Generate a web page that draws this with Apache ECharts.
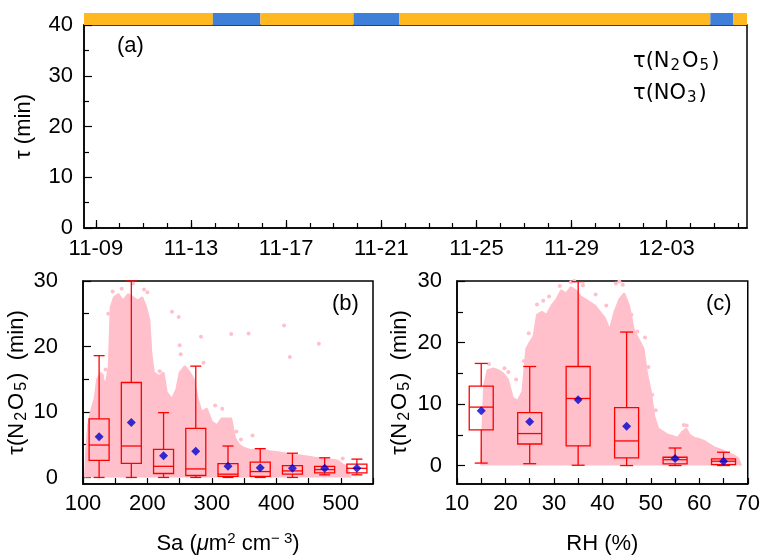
<!DOCTYPE html>
<html><head><meta charset="utf-8">
<script src="https://cdn.jsdelivr.net/npm/echarts@6/dist/echarts.min.js"></script>
<style>html,body{margin:0;padding:0;background:#fff}#c{width:763px;height:556px}</style>
</head><body><div id="c"></div>
<script>
// ---------------- data ----------------
const timeMin = '2019-11-08 12:00';
const timeMax = '2019-12-06 09:00';
const dateTickLabels = ['2019-11-09','2019-11-13','2019-11-17','2019-11-21','2019-11-25','2019-11-29','2019-12-03'];
// period bar above panel (a): [start, end, type] 0 = orange, 1 = blue
const periodStart = ['2019-11-08 12:00','2019-11-13 22:00','2019-11-15 22:00','2019-11-19 20:00','2019-11-21 18:00','2019-12-04 20:00','2019-12-05 19:00'];
const periodEnd   = ['2019-11-13 22:00','2019-11-15 22:00','2019-11-19 20:00','2019-11-21 18:00','2019-12-04 20:00','2019-12-05 19:00','2019-12-06 09:00'];
const periodType  = [0,1,0,1,0,1,0];

// panel (b): tau(N2O5) vs Sa
const saBins        = [125, 175, 225, 275, 325, 375, 425, 475, 525];
const saWhiskerLow  = [0, 0, 0, 0, 0, 0, 0, 0.4, 0.4];
const saQ1          = [2.6, 2.15, 0.6, 0.3, 0.15, 0.15, 0.5, 0.7, 0.7];
const saMedian      = [4.95, 4.8, 1.7, 1.3, 0.5, 0.9, 1.0, 1.2, 1.4];
const saQ3          = [8.95, 14.5, 4.3, 7.5, 2.1, 2.35, 1.8, 1.7, 2.05];
const saWhiskerHigh = [18.6, 30, 9.9, 17.0, 4.8, 4.4, 3.7, 3.0, 2.8];
const saMean        = [6.2, 8.4, 3.3, 4.0, 1.7, 1.5, 1.4, 1.4, 1.4];
// upper edge of the dense point cloud (Sa, tau)
const saCloudX = [103,105,108,112,118,122,128,135,140,143,148,155,162,170,178,185,192,198,203,206,210,218,225,230,238,245,250,258,266,272,278,284,292,300,308,315,322,330,336,342,350,360,375,390,405,420,440,460,480,495,503,510,515];
const saCloudY = [0,4,8,10,12,15,16,14,17,26,27.5,28,27,28,27.5,27,27.5,26,24,19,16,15.5,16,13,12,13.5,16,17,16,15,12,10,10.5,8.5,8,9,9,9,6,5,4.5,4.2,4.3,4,3.8,3.6,3.3,3,2.8,2.6,2,1.6,0];
// sparse points outside the dense cloud
const saSparseX = [194.7,177.6,238,248.5,250,251.6,283,316,330,357,412,421,466,363,503,130,126,120,135,112,108,160,219,200,146,139,287,305,338,345];
const saSparseY = [28.7,29.6,25.3,24.5,20.2,18.8,21.5,10.5,21.9,22.0,23.2,18.4,20.4,6.4,2.9,15.5,13,11,16.5,8,5.5,28.8,16.2,28.3,28.4,25,17.5,11,7,5.8];

// panel (c): tau(N2O5) vs RH
const rhBins        = [15, 25, 35, 45, 55, 65];
const rhWhiskerLow  = [0.4, 0.3, 0.05, 0, 0, 0];
const rhQ1          = [5.8, 3.5, 3.2, 1.25, 0.27, 0.16];
const rhMedian      = [9.5, 5.2, 10.9, 4.0, 0.95, 0.7];
const rhQ3          = [12.9, 8.6, 16.1, 9.4, 1.35, 1.08];
const rhWhiskerHigh = [16.6, 16.1, 29.9, 21.7, 2.85, 2.16];
const rhMean        = [8.9, 7.1, 10.7, 6.4, 1.13, 0.7];
const rhCloudX = [15.0,15.2,15.6,16.3,17.5,18.5,19.5,20.5,21.5,22.5,23.5,24.3,25,25.8,26.5,27.5,28.5,29.5,30.5,31.5,32.5,33.5,34.5,35.5,36.5,37.5,38.5,39.5,40.5,41.5,42.5,43.5,44.5,45.5,46.5,47.5,48.5,49.2,50,50.7,51.5,52.5,53.5,54.5,55.5,56.5,57.3,58,59,60,61,62,63,64,65,66,67,68,68.6];
const rhCloudY = [0,5,13,15.5,15.8,15.5,15,14,11,10.5,12,19,20,21,24.5,25,24.5,26,27,28.5,28,29,28.5,27.5,27,26.5,26,25,24,22,25,27,28,26,22,20.5,19,15,12,8,6,5.5,5,4.8,4.5,5.5,6,5,4.5,4.3,4,3.5,3,2.7,2.4,2,1.7,1.2,0];
const rhSparseX = [33.5,34.2,42.8,43.5,44.2,29,27.8,26.5,24.8,23.8,22.2,48.8,49.5,50.3,51,56.8,57.4,16.6,19.8,20.6,31.2,36,38.6,40.8,46,47.2];
const rhSparseY = [29.8,30,29.6,29.9,29.4,27.5,26.8,26.2,21.5,17,14,20.8,16,11.5,9,6.6,6.5,16.5,15.8,15.2,29.2,29.3,27.8,26,24.5,21.8];

// ---------------- styles ----------------
const ORANGE = '#FFB81F', BLUE = '#3F7FD8', PINK = '#FFC0CB', BOXRED = '#FF0000', MEANBLUE = '#0000CD';
const FONT = 'Liberation Sans';
const LBL = {fontFamily: FONT, fontSize: 22, color: '#000'};
const AXLINE = {show: true, onZero: false, lineStyle: {color: '#000', width: 1.5}};
const TICKLINE = {color: '#000', width: 1.2};

function ts(s) {
  const m = s.match(/(\d+)-(\d+)-(\d+)(?: (\d+):(\d+))?/);
  return new Date(+m[1], +m[2] - 1, +m[3], m[4] ? +m[4] : 0, m[5] ? +m[5] : 0).getTime();
}
const tMin = ts(timeMin), tMax = ts(timeMax);
const majorTicks = dateTickLabels.map(ts);
const dailyTicks = [];
for (let d = new Date(2019, 10, 9); d.getTime() <= tMax; d.setDate(d.getDate() + 1)) dailyTicks.push(d.getTime());
function fmtDate(v) {
  const d = new Date(v);
  return String(d.getMonth() + 1).padStart(2, '0') + '-' + String(d.getDate()).padStart(2, '0');
}
const zip = (a, b) => a.map((v, i) => [v, b[i]]);
const boxData = (x, lo, q1, md, q3, hi) => x.map((v, i) => [v, lo[i], q1[i], md[i], q3[i], hi[i]]);

function boxRenderer(boxW, capW) {
  return function (params, api) {
    const x = api.value(0);
    const lo = api.coord([x, api.value(1)]);
    const q1 = api.coord([x, api.value(2)]);
    const md = api.coord([x, api.value(3)]);
    const q3 = api.coord([x, api.value(4)]);
    const hi = api.coord([x, api.value(5)]);
    const cx = lo[0];
    const st = {stroke: BOXRED, lineWidth: 1.3, fill: 'none'};
    return {type: 'group', children: [
      {type: 'rect', shape: {x: cx - boxW / 2, y: q3[1], width: boxW, height: q1[1] - q3[1]}, style: st},
      {type: 'line', shape: {x1: cx - boxW / 2, y1: md[1], x2: cx + boxW / 2, y2: md[1]}, style: st},
      {type: 'line', shape: {x1: cx, y1: q3[1], x2: cx, y2: hi[1]}, style: st},
      {type: 'line', shape: {x1: cx - capW / 2, y1: hi[1], x2: cx + capW / 2, y2: hi[1]}, style: st},
      {type: 'line', shape: {x1: cx, y1: q1[1], x2: cx, y2: lo[1]}, style: st},
      {type: 'line', shape: {x1: cx - capW / 2, y1: lo[1], x2: cx + capW / 2, y2: lo[1]}, style: st}
    ]};
  };
}

const tauRich = {
  a: {fontFamily: FONT, fontSize: 22, color: '#000', lineHeight: 26},
  s: {fontFamily: FONT, fontSize: 16, color: '#000', verticalAlign: 'bottom', lineHeight: 16, padding: [0, 2, 0, 2]},
  sup: {fontFamily: FONT, fontSize: 15, color: '#000', verticalAlign: 'top', lineHeight: 15},
  i: {fontFamily: FONT, fontSize: 22, color: '#000', fontStyle: 'italic', lineHeight: 26}
};

const chart = echarts.init(document.getElementById('c'), null, {renderer: 'canvas'});
chart.setOption({
  animation: false,
  backgroundColor: '#fff',
  grid: [
    {left: 84, right: 16, top: 13, height: 12},
    {left: 84, right: 16, top: 25, height: 203, show: true, borderColor: '#000', borderWidth: 1.5},
    {left: 83, width: 290, top: 281, height: 203, show: true, borderColor: '#000', borderWidth: 1.5},
    {left: 457, width: 291, top: 281, height: 203, show: true, borderColor: '#000', borderWidth: 1.5}
  ],
  xAxis: [
    {gridIndex: 0, type: 'value', min: tMin, max: tMax, show: false},
    {gridIndex: 1, type: 'value', position: 'bottom', min: tMin, max: tMax, axisLine: AXLINE, splitLine: {show: false},
     axisTick: {show: true, inside: true, length: 8, customValues: majorTicks, lineStyle: TICKLINE},
     axisLabel: Object.assign({customValues: majorTicks, formatter: fmtDate, margin: 10}, LBL)},
    {gridIndex: 1, type: 'value', position: 'bottom', min: tMin, max: tMax, axisLine: {show: false, onZero: false}, splitLine: {show: false},
     axisTick: {show: true, inside: true, length: 5, customValues: dailyTicks, lineStyle: TICKLINE},
     axisLabel: {show: false}},
    {gridIndex: 2, type: 'value', position: 'bottom', min: 100, max: 550, interval: 100, axisLine: AXLINE, splitLine: {show: false},
     axisTick: {inside: true, length: 6, lineStyle: TICKLINE},
     minorTick: {show: true, splitNumber: 2, length: 6, lineStyle: TICKLINE},
     axisLabel: Object.assign({margin: 9}, LBL),
     name: '{a|Sa (}{i|μ}{a|m}{sup|2}{a| cm}{sup|− 3}{a|)}', nameLocation: 'middle', nameGap: 47,
     nameTextStyle: {rich: tauRich}},
    {gridIndex: 3, type: 'value', position: 'bottom', min: 10, max: 70, interval: 10, axisLine: AXLINE, splitLine: {show: false},
     axisTick: {inside: true, length: 6, lineStyle: TICKLINE},
     minorTick: {show: true, splitNumber: 2, length: 6, lineStyle: TICKLINE},
     axisLabel: Object.assign({margin: 9}, LBL),
     name: '{a|RH (%)}', nameLocation: 'middle', nameGap: 47, nameTextStyle: {rich: tauRich}}
  ],
  yAxis: [
    {gridIndex: 0, type: 'value', min: 0, max: 1, show: false},
    {gridIndex: 1, type: 'value', position: 'left', min: 0, max: 40, interval: 10, axisLine: AXLINE, splitLine: {show: false},
     axisTick: {inside: true, length: 8, lineStyle: TICKLINE},
     minorTick: {show: true, splitNumber: 2, length: 5, lineStyle: TICKLINE},
     axisLabel: Object.assign({margin: 11}, LBL),
     name: '{a|τ (min)}', nameLocation: 'middle', nameGap: 47, nameTextStyle: {rich: tauRich}},
    {gridIndex: 2, type: 'value', position: 'left', min: -1, max: 30, axisLine: AXLINE, splitLine: {show: false},
     axisTick: {inside: true, length: 8, customValues: [0, 10, 20, 30], lineStyle: TICKLINE},
     axisLabel: Object.assign({margin: 25, customValues: [0, 10, 20, 30]}, LBL),
     name: '{a|τ(N}{s|2}{a|O}{s|5}{a|)  (min)}', nameLocation: 'middle', nameGap: 50, nameTextStyle: {rich: tauRich}},
    {gridIndex: 2, type: 'value', position: 'left', min: -1, max: 30, axisLine: {show: false, onZero: false}, splitLine: {show: false},
     axisTick: {inside: true, length: 6, customValues: [5, 15, 25], lineStyle: TICKLINE},
     axisLabel: {show: false}},
    {gridIndex: 3, type: 'value', position: 'left', min: -3, max: 30, axisLine: AXLINE, splitLine: {show: false},
     axisTick: {inside: true, length: 8, customValues: [0, 10, 20, 30], lineStyle: TICKLINE},
     axisLabel: Object.assign({margin: 15, customValues: [0, 10, 20, 30]}, LBL),
     name: '{a|τ(N}{s|2}{a|O}{s|5}{a|)  (min)}', nameLocation: 'middle', nameGap: 44, nameTextStyle: {rich: tauRich}},
    {gridIndex: 3, type: 'value', position: 'left', min: -3, max: 30, axisLine: {show: false, onZero: false}, splitLine: {show: false},
     axisTick: {inside: true, length: 6, customValues: [5, 15, 25], lineStyle: TICKLINE},
     axisLabel: {show: false}}
  ],
  legend: {
    data: ['τ(N2O5)', 'τ(NO3)'], orient: 'vertical', left: 628, top: 51, itemGap: 9, padding: 0,
    itemWidth: 0, itemHeight: 0, icon: 'rect', selectedMode: false,
    formatter: n => n === 'τ(N2O5)' ? '{a|τ(N}{s|2}{a|O}{s|5}{a|)}' : '{a|τ(NO}{s|3}{a|)}',
    textStyle: {rich: {
      a: {fontFamily: 'DejaVu Sans', fontSize: 21, color: '#000', lineHeight: 25},
      s: {fontFamily: 'DejaVu Sans', fontSize: 15, color: '#000', verticalAlign: 'bottom', lineHeight: 15, padding: [0, 2, 0, 1]}
    }}
  },
  graphic: [
    {type: 'text', left: 117, top: 35, style: {text: '(a)', font: '22px "Liberation Sans"', fill: '#000'}},
    {type: 'text', left: 332, top: 293, style: {text: '(b)', font: '22px "Liberation Sans"', fill: '#000'}},
    {type: 'text', left: 706, top: 293, style: {text: '(c)', font: '22px "Liberation Sans"', fill: '#000'}}
  ],
  series: [
    {type: 'custom', xAxisIndex: 0, yAxisIndex: 0, silent: true,
     data: periodStart.map((s, i) => [ts(s), ts(periodEnd[i]), periodType[i]]),
     encode: {x: [0, 1]},
     renderItem: function (params, api) {
       const s = api.coord([api.value(0), 1]);
       const e = api.coord([api.value(1), 0]);
       return {type: 'rect', shape: {x: s[0], y: s[1], width: e[0] - s[0], height: e[1] - s[1]},
               style: {fill: api.value(2) === 1 ? BLUE : ORANGE}};
     }},
    {name: 'τ(N2O5)', type: 'line', xAxisIndex: 1, yAxisIndex: 1, data: [], color: '#000'},
    {name: 'τ(NO3)', type: 'line', xAxisIndex: 1, yAxisIndex: 1, data: [], color: '#000'},
    // panel (b)
    {type: 'line', xAxisIndex: 3, yAxisIndex: 2, data: zip(saCloudX, saCloudY), showSymbol: false, silent: true,
     lineStyle: {color: PINK, width: 2}, areaStyle: {color: PINK, opacity: 1}, z: 1},
    {type: 'scatter', xAxisIndex: 3, yAxisIndex: 2, data: zip(saSparseX, saSparseY), symbolSize: 4,
     itemStyle: {color: PINK, opacity: 1}, z: 2},
    {type: 'custom', xAxisIndex: 3, yAxisIndex: 2, clip: false, z: 3,
     data: boxData(saBins, saWhiskerLow, saQ1, saMedian, saQ3, saWhiskerHigh),
     encode: {x: 0, y: [1, 2, 3, 4, 5]}, renderItem: boxRenderer(20, 11)},
    {type: 'scatter', xAxisIndex: 3, yAxisIndex: 2, data: zip(saBins, saMean), symbol: 'diamond', symbolSize: 9,
     itemStyle: {color: MEANBLUE}, z: 4},
    // panel (c)
    {type: 'line', xAxisIndex: 4, yAxisIndex: 4, data: zip(rhCloudX, rhCloudY), showSymbol: false, silent: true,
     lineStyle: {color: PINK, width: 2}, areaStyle: {color: PINK, opacity: 1}, z: 1},
    {type: 'scatter', xAxisIndex: 4, yAxisIndex: 4, data: zip(rhSparseX, rhSparseY), symbolSize: 4,
     itemStyle: {color: PINK, opacity: 1}, z: 2},
    {type: 'custom', xAxisIndex: 4, yAxisIndex: 4, clip: false, z: 3,
     data: boxData(rhBins, rhWhiskerLow, rhQ1, rhMedian, rhQ3, rhWhiskerHigh),
     encode: {x: 0, y: [1, 2, 3, 4, 5]}, renderItem: boxRenderer(24, 13)},
    {type: 'scatter', xAxisIndex: 4, yAxisIndex: 4, data: zip(rhBins, rhMean), symbol: 'diamond', symbolSize: 9,
     itemStyle: {color: MEANBLUE}, z: 4}
  ]
});
</script></body></html>
